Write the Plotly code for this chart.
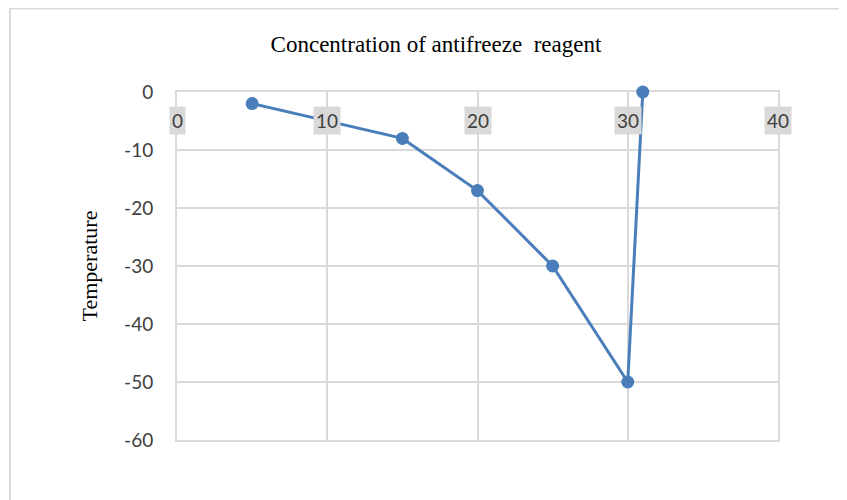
import plotly.graph_objects as go

concentration = [5, 15, 20, 25, 30, 31]
temperature = [-2, -8, -17, -30, -50, 0]
x_ticks = [0, 10, 20, 30, 40]
y_ticks = [0, -10, -20, -30, -40, -50, -60]
y_tick_labels = ["0", "-10", "-20", "-30", "-40", "-50", "-60"]

title_text = "Concentration of antifreeze\u00a0 reagent"
y_title = "Temperature"

blue = "#4a7ebb"
grid = "#d9d9d9"

# page body has an 8px margin, so figure coordinates are viewport - 8
L, T = 169, 84
PW, PH = 601, 348

fig = go.Figure()
fig.add_trace(go.Scatter(
    x=concentration, y=temperature, mode="lines+markers",
    line=dict(color=blue, width=3),
    marker=dict(color=blue, size=13),
    showlegend=False, cliponaxis=False,
))

for t in x_ticks:
    fig.add_annotation(
        x=t, y=0, xref="x", yref="y", text=str(t), showarrow=False,
        yanchor="middle", yshift=-28,
        font=dict(family="Lato", size=19, color="#404040"),
        bgcolor=grid, borderpad=2,
    )

fig.add_shape(type="rect", xref="paper", yref="paper",
              x0=(2 - L) / PW, x1=1.3, y0=-0.4, y1=1 + (T - 0.5) / PH,
              line=dict(color=grid, width=2), fillcolor="rgba(0,0,0,0)", layer="below")

fig.update_layout(
    width=847, height=500,
    margin=dict(l=L, r=847 - L - PW, t=T, b=500 - T - PH),
    paper_bgcolor="white", plot_bgcolor="white",
    title=dict(text=title_text, x=428 / 847, xref="container", xanchor="center",
               y=1 - 36 / 500, yanchor="middle", automargin=False,
               font=dict(family="Liberation Serif", size=23, color="#000000")),
    xaxis=dict(range=[0, 40], tickvals=x_ticks, showticklabels=False, automargin=False,
               showgrid=True, gridcolor=grid, gridwidth=2, zeroline=False,
               showline=True, mirror=True, linecolor=grid, linewidth=2,
               layer="below traces"),
    yaxis=dict(range=[-60, 0], tickvals=y_ticks, ticktext=y_tick_labels, automargin=False,
               showgrid=True, gridcolor=grid, gridwidth=2,
               zeroline=False, showline=True, mirror=True, linecolor=grid, linewidth=2,
               layer="below traces", ticklabelstandoff=18,
               tickfont=dict(family="Lato", size=19, color="#404040"),
               title=dict(text=y_title, standoff=20,
                          font=dict(family="Liberation Serif", size=22, color="#000000"))),
)

fig.write_html("out.html")
